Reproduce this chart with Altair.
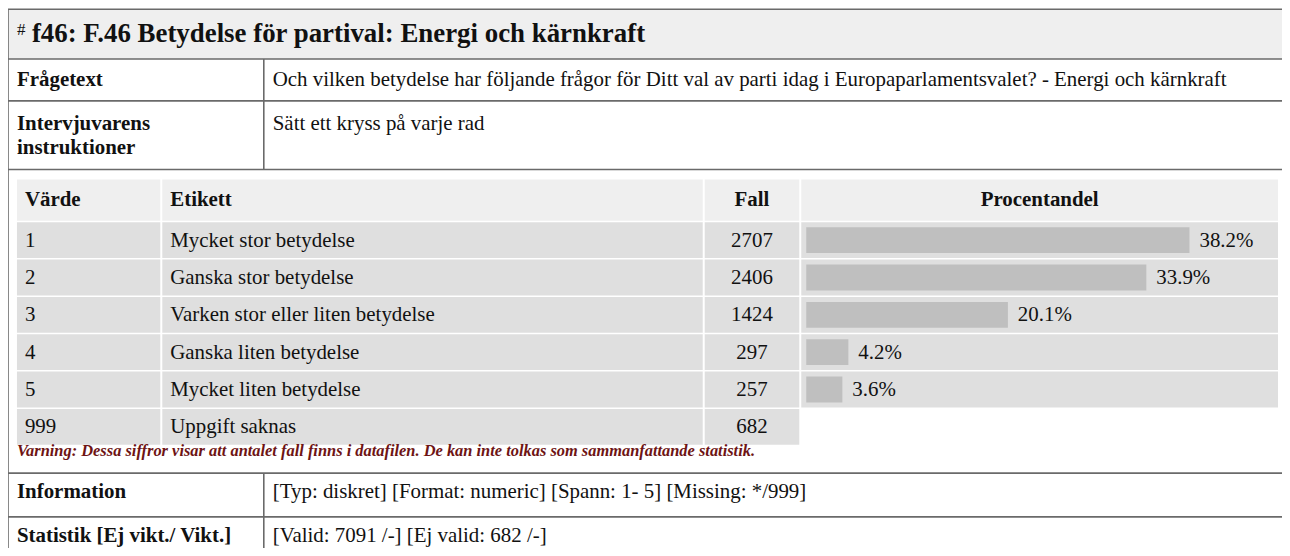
import altair as alt
import pandas as pd

# ---------------- data ----------------
title_hash = "#"
title_text = "f46: F.46 Betydelse för partival: Energi och kärnkraft"
meta_labels = ["Frågetext", "Intervjuvarens", "instruktioner", "Information", "Statistik [Ej vikt./ Vikt.]"]
meta_texts = [
    "Och vilken betydelse har följande frågor för Ditt val av parti idag i Europaparlamentsvalet? - Energi och kärnkraft",
    "Sätt ett kryss på varje rad",
    "[Typ: diskret] [Format: numeric] [Spann: 1- 5] [Missing: */999]",
    "[Valid: 7091 /-] [Ej valid: 682 /-]",
]
headers = ["Värde", "Etikett", "Fall", "Procentandel"]
codes = ["1", "2", "3", "4", "5", "999"]
labels = [
    "Mycket stor betydelse",
    "Ganska stor betydelse",
    "Varken stor eller liten betydelse",
    "Ganska liten betydelse",
    "Mycket liten betydelse",
    "Uppgift saknas",
]
counts = [2707, 2406, 1424, 297, 257, 682]
percents = [38.2, 33.9, 20.1, 4.2, 3.6]
warning = ("Varning: Dessa siffror visar att antalet fall finns i datafilen. "
           "De kan inte tolkas som sammanfattande statistik.")

# ---------------- layout / style ----------------
FONT = "Liberation Serif"
W, H = 1280, 540
XD = [6, 6 + W]
YD = [7, 7 + H]
LABEL_X, VALUE_X, SPLIT_X = 15, 272, 263
H_LINES = [7, 57, 99, 168, 473, 517]
COLS = [(15, 159), (161, 704), (706, 801), (803, 1282)]
HEAD_Y = (178, 219.5)
ROW0, PITCH, ROW_H = 221, 37.5, 36
BAR_X0, PX_PER_PCT, INSET = 808, 10.08, 5
META_Y = [84, 128, 152, 498, 542]
META_VALUE_Y = [84, 128, 498, 542]

xs = alt.Scale(domain=XD, range=[0, W], nice=False, zero=False)
ys = alt.Scale(domain=YD, range=[0, H], nice=False, zero=False)
ps = alt.Scale(domain=[0, 100], range=[BAR_X0 - XD[0], BAR_X0 - XD[0] + 100 * PX_PER_PCT],
               nice=False, zero=False)

def row_top(i):
    return ROW0 + PITCH * i

# rect cells
rects = [dict(x=XD[0], x2=XD[1], y=7, y2=57, fill="#efefef")]
for (a, b) in COLS:
    rects.append(dict(x=a, x2=b, y=HEAD_Y[0], y2=HEAD_Y[1], fill="#efefef"))
for i in range(len(codes)):
    ncols = 4 if i < len(percents) else 3
    for (a, b) in COLS[:ncols]:
        rects.append(dict(x=a, x2=b, y=row_top(i), y2=row_top(i) + ROW_H, fill="#dfdfdf"))
rect_df = pd.DataFrame(rects)

# border lines
lines = [dict(x=6, x2=1295, y=yy, y2=yy) for yy in H_LINES]
lines += [dict(x=6, x2=6, y=7, y2=570),
          dict(x=SPLIT_X, x2=SPLIT_X, y=57, y2=168),
          dict(x=SPLIT_X, x2=SPLIT_X, y=473, y2=570)]
line_df = pd.DataFrame(lines)

# bars
bar_df = pd.DataFrame({
    "start": [0.0] * len(percents),
    "pct": percents,
    "y": [row_top(i) + INSET for i in range(len(percents))],
    "y2": [row_top(i) + ROW_H - INSET for i in range(len(percents))],
    "ty": [row_top(i) + ROW_H / 2 + 6.5 for i in range(len(percents))],
    "label": [f"{p:.1f}%" for p in percents],
})

# texts
bold_left = [dict(x=LABEL_X, y=yy, text=t) for t, yy in zip(meta_labels, META_Y)]
bold_left += [dict(x=COLS[0][0] + 8, y=205, text=headers[0]),
              dict(x=COLS[1][0] + 8, y=205, text=headers[1])]
bold_center = [dict(x=(COLS[2][0] + COLS[2][1]) / 2, y=205, text=headers[2]),
               dict(x=(COLS[3][0] + COLS[3][1]) / 2, y=205, text=headers[3])]
reg_left = [dict(x=VALUE_X, y=yy, text=t) for t, yy in zip(meta_texts, META_VALUE_Y)]
reg_center = []
for i in range(len(codes)):
    yb = row_top(i) + ROW_H / 2 + 6.5
    reg_left.append(dict(x=COLS[0][0] + 8, y=yb, text=codes[i]))
    reg_left.append(dict(x=COLS[1][0] + 8, y=yb, text=labels[i]))
    reg_center.append(dict(x=(COLS[2][0] + COLS[2][1]) / 2, y=yb, text=str(counts[i])))


def text_layer(rows, size, weight="normal", align="left", style="normal", color="#111111"):
    return alt.Chart(pd.DataFrame(rows)).mark_text(
        font=FONT, fontSize=size, fontWeight=weight, fontStyle=style,
        align=align, baseline="alphabetic", color=color
    ).encode(
        x=alt.X("x:Q", scale=xs, axis=None),
        y=alt.Y("y:Q", scale=ys, axis=None),
        text="text:N",
    )


rect_layer = alt.Chart(rect_df).mark_rect().encode(
    x=alt.X("x:Q", scale=xs, axis=None), x2="x2:Q",
    y=alt.Y("y:Q", scale=ys, axis=None), y2="y2:Q",
    fill=alt.Fill("fill:N", scale=None),
)
line_layer = alt.Chart(line_df).mark_rule(color="#6a6a6a", strokeWidth=1.6).encode(
    x=alt.X("x:Q", scale=xs, axis=None), x2="x2:Q",
    y=alt.Y("y:Q", scale=ys, axis=None), y2="y2:Q",
)
bar_layer = alt.Chart(bar_df).mark_rect(color="#bfbfbf").encode(
    x=alt.X("start:Q", scale=ps, axis=None), x2="pct:Q",
    y=alt.Y("y:Q", scale=ys, axis=None), y2="y2:Q",
)
pct_layer = alt.Chart(bar_df).mark_text(
    font=FONT, fontSize=21, align="left", baseline="alphabetic", dx=10, color="#111111"
).encode(
    x=alt.X("pct:Q", scale=ps, axis=None),
    y=alt.Y("ty:Q", scale=ys, axis=None),
    text="label:N",
)

layers = [
    rect_layer,
    line_layer,
    bar_layer,
    pct_layer,
    text_layer([dict(x=LABEL_X, y=33, text=title_hash)], 17),
    text_layer([dict(x=30, y=40, text=title_text)], 27, weight="bold"),
    text_layer(bold_left, 21, weight="bold"),
    text_layer(bold_center, 21, weight="bold", align="center"),
    text_layer(reg_left, 21),
    text_layer(reg_center, 21, align="center"),
    text_layer([dict(x=LABEL_X, y=456, text=warning)], 16.5, weight="bold", style="italic",
               color="#6e1414"),
]

chart = alt.layer(*layers).resolve_scale(x="independent").properties(
    width=W, height=H, padding=0, autosize=alt.AutoSizeParams(type="none"),
    background="white",
).configure_view(stroke=None)

chart.save("out.html", embed_options={"renderer": "svg", "actions": False})
